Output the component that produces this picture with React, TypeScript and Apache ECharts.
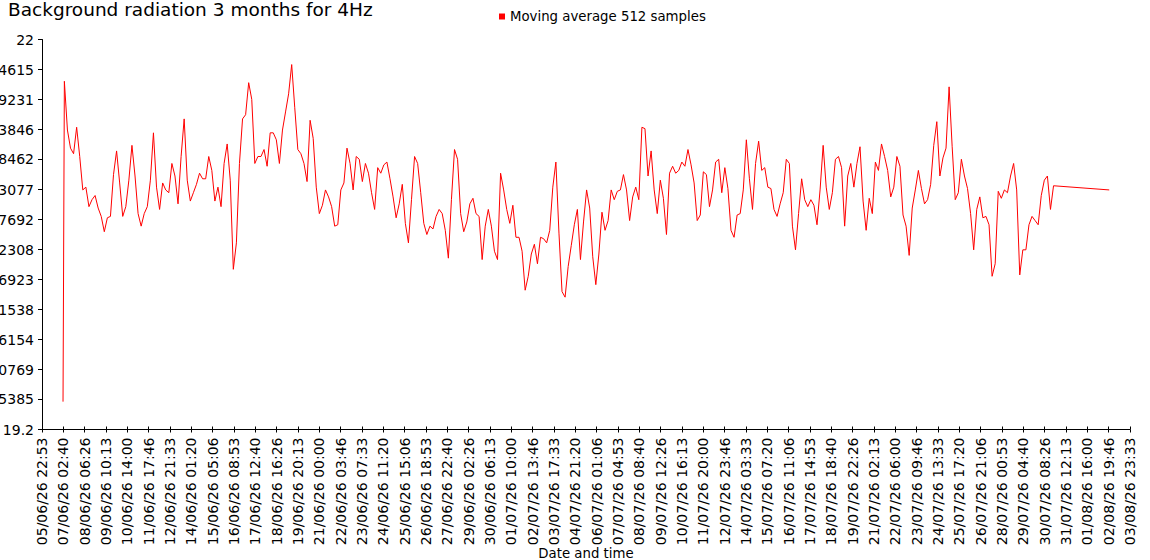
import React, { useEffect, useRef } from "react";
import * as echarts from "echarts";

const TITLE = "Background radiation 3 months for 4Hz";
const SERIES_NAME = "Moving average 512 samples";
const X_AXIS_NAME = "Date and time";

const X_TICK_LABELS = [
  "05/06/26 22:53", "07/06/26 02:40", "08/06/26 06:26", "09/06/26 10:13", "10/06/26 14:00",
  "11/06/26 17:46", "12/06/26 21:33", "14/06/26 01:20", "15/06/26 05:06", "16/06/26 08:53",
  "17/06/26 12:40", "18/06/26 16:26", "19/06/26 20:13", "21/06/26 00:00", "22/06/26 03:46",
  "23/06/26 07:33", "24/06/26 11:20", "25/06/26 15:06", "26/06/26 18:53", "27/06/26 22:40",
  "29/06/26 02:26", "30/06/26 06:13", "01/07/26 10:00", "02/07/26 13:46", "03/07/26 17:33",
  "04/07/26 21:20", "06/07/26 01:06", "07/07/26 04:53", "08/07/26 08:40", "09/07/26 12:26",
  "10/07/26 16:13", "11/07/26 20:00", "12/07/26 23:46", "14/07/26 03:33", "15/07/26 07:20",
  "16/07/26 11:06", "17/07/26 14:53", "18/07/26 18:40", "19/07/26 22:26", "21/07/26 02:13",
  "22/07/26 06:00", "23/07/26 09:46", "24/07/26 13:33", "25/07/26 17:20", "26/07/26 21:06",
  "28/07/26 00:53", "29/07/26 04:40", "30/07/26 08:26", "31/07/26 12:13", "01/08/26 16:00",
  "02/08/26 19:46", "03/08/26 23:33",
];

const Y_TICKS = [
  19.2, 19.415385, 19.630769, 19.846154, 20.061538, 20.276923, 20.492308,
  20.707692, 20.923077, 21.138462, 21.353846, 21.569231, 21.784615, 22,
];
const Y_MIN = 19.2;
const Y_MAX = 22;

const FIRST_SAMPLE = { time: "07/06/26 02:15", value: 19.4 };
const SAMPLE_START = "07/06/26 04:00";
const SAMPLE_STEP_HOURS = 4;
const VALUES = [
  21.70, 21.35, 21.22, 21.18, 21.37, 21.16, 20.92, 20.94, 20.80, 20.85,
  20.88, 20.79, 20.73, 20.62, 20.72, 20.73, 21.03, 21.20, 20.97, 20.73,
  20.80, 20.99, 21.24, 21.02, 20.75, 20.66, 20.75, 20.80, 20.99, 21.33,
  20.94, 20.78, 20.97, 20.92, 20.90, 21.11, 21.02, 20.82, 21.16, 21.43,
  20.99, 20.84, 20.90, 20.96, 21.04, 21.00, 21.00, 21.16, 21.06, 20.84,
  20.94, 20.80, 21.11, 21.25, 20.99, 20.35, 20.54, 21.11, 21.43, 21.46,
  21.69, 21.57, 21.11, 21.16, 21.16, 21.21, 21.09, 21.33, 21.33, 21.28,
  21.11, 21.35, 21.48, 21.61, 21.82, 21.51, 21.21, 21.18, 21.11, 20.98,
  21.42, 21.29, 20.94, 20.75, 20.81, 20.92, 20.87, 20.80, 20.66, 20.67,
  20.92, 20.97, 21.22, 21.11, 20.92, 21.16, 21.14, 20.98, 21.11, 21.04,
  20.90, 20.78, 21.08, 21.04, 21.10, 21.12, 21.00, 20.87, 20.72, 20.82,
  20.96, 20.68, 20.54, 20.85, 21.16, 21.11, 20.90, 20.68, 20.60, 20.66,
  20.64, 20.73, 20.78, 20.75, 20.63, 20.43, 20.85, 21.21, 21.14, 20.75,
  20.62, 20.69, 20.82, 20.86, 20.75, 20.73, 20.42, 20.66, 20.78, 20.66,
  20.48, 20.42, 21.04, 20.92, 20.78, 20.68, 20.81, 20.58, 20.58, 20.48,
  20.20, 20.30, 20.46, 20.53, 20.39, 20.58, 20.57, 20.54, 20.63, 20.94,
  21.12, 20.61, 20.19, 20.15, 20.37, 20.52, 20.67, 20.78, 20.42, 20.69,
  20.92, 20.79, 20.44, 20.24, 20.46, 20.76, 20.63, 20.70, 20.92, 20.85,
  20.91, 20.92, 21.03, 20.92, 20.70, 20.87, 20.94, 20.85, 21.37, 21.36,
  21.02, 21.20, 20.92, 20.75, 20.99, 20.86, 20.60, 21.04, 21.09, 21.04,
  21.06, 21.12, 21.09, 21.21, 21.10, 20.97, 20.70, 20.74, 21.05, 21.03,
  20.80, 20.92, 21.12, 21.14, 20.90, 21.08, 20.93, 20.63, 20.58, 20.74,
  20.75, 20.92, 21.28, 21.00, 20.78, 21.11, 21.27, 21.06, 21.08, 20.94,
  20.93, 20.78, 20.73, 20.82, 20.90, 21.14, 21.11, 20.66, 20.49, 20.75,
  21.00, 20.85, 20.80, 20.85, 20.81, 20.67, 20.92, 21.24, 20.94, 20.78,
  20.90, 21.14, 21.16, 21.08, 20.66, 21.02, 21.11, 20.94, 21.11, 21.23,
  20.84, 20.63, 20.86, 20.75, 21.12, 21.06, 21.25, 21.16, 21.06, 20.87,
  20.94, 21.16, 21.09, 20.74, 20.66, 20.45, 20.79, 20.92, 21.06, 20.93,
  20.82, 20.85, 20.96, 21.24, 21.41, 21.02, 21.15, 21.22, 21.66, 21.23,
  20.85, 20.90, 21.14, 21.02, 20.93, 20.75, 20.49, 20.78, 20.87, 20.72,
  20.73, 20.67, 20.30, 20.39, 20.91, 20.86, 20.92, 20.90, 21.02, 21.11,
  20.92, 20.31, 20.49, 20.49, 20.67, 20.73, 20.70, 20.67, 20.88, 20.99,
  21.02, 20.78, 20.95,
];
const LAST_SAMPLE = { time: "02/08/26 20:30", value: 20.92 };

function parseStamp(s: string): number {
  const [d, t] = s.split(" ");
  const [dd, mm, yy] = d.split("/").map(Number);
  const [hh, mi] = t.split(":").map(Number);
  return Date.UTC(2000 + yy, mm - 1, dd, hh, mi);
}

function pad(n: number): string {
  return n < 10 ? "0" + n : String(n);
}

function formatStamp(ms: number): string {
  const d = new Date(Math.round(ms / 60000) * 60000);
  return (
    pad(d.getUTCDate()) + "/" + pad(d.getUTCMonth() + 1) + "/" + pad(d.getUTCFullYear() % 100) +
    " " + pad(d.getUTCHours()) + ":" + pad(d.getUTCMinutes())
  );
}

export default function App() {
  const ref = useRef<HTMLDivElement>(null);

  useEffect(() => {
    if (!ref.current) return;
    const chart = echarts.init(ref.current, null, { renderer: "svg" });

    const xTicks = X_TICK_LABELS.map(parseStamp);
    const xMin = xTicks[0];
    const xMax = xTicks[xTicks.length - 1];
    const start = parseStamp(SAMPLE_START);
    const step = SAMPLE_STEP_HOURS * 3600 * 1000;
    const data: [number, number][] = [
      [parseStamp(FIRST_SAMPLE.time), FIRST_SAMPLE.value],
      ...VALUES.map((v, i) => [start + i * step, v] as [number, number]),
      [parseStamp(LAST_SAMPLE.time), LAST_SAMPLE.value],
    ];

    const font = "DejaVu Sans";

    chart.setOption({
      animation: false,
      textStyle: { fontFamily: font },
      title: {
        text: TITLE,
        left: 8,
        top: 0,
        padding: 0,
        textStyle: { fontSize: 18.5, fontWeight: "normal", color: "#000", fontFamily: font },
      },
      legend: {
        data: [SERIES_NAME],
        left: 499,
        top: 10,
        padding: 0,
        icon: "rect",
        itemWidth: 6,
        itemHeight: 6,
        itemGap: 5,
        textStyle: { fontSize: 13.3, color: "#000", fontFamily: font },
      },
      grid: {
        left: 42,
        right: 20,
        top: 39.5,
        bottom: 130.5,
        containLabel: false,
        outerBoundsMode: "none",
      },
      xAxis: [
        {
          type: "value",
          min: xMin,
          max: xMax,
          name: X_AXIS_NAME,
          nameLocation: "middle",
          nameGap: 117,
          nameMoveOverlap: false,
          nameTextStyle: { fontSize: 13.3, color: "#000", fontFamily: font },
          axisLine: { show: true, lineStyle: { color: "#000", width: 1 } },
          axisTick: { show: true, customValues: xTicks, length: 3, lineStyle: { color: "#000" } },
          axisLabel: {
            customValues: xTicks,
            rotate: 90,
            margin: 8,
            fontSize: 14,
            color: "#000",
            fontFamily: font,
            formatter: (v: number) => formatStamp(v),
          },
          splitLine: { show: false },
        },
        {
          type: "value",
          min: xMin,
          max: xMax,
          position: "bottom",
          axisLine: { show: false },
          axisTick: { show: true, inside: true, customValues: xTicks, length: 3, lineStyle: { color: "#000" } },
          axisLabel: { show: false },
          splitLine: { show: false },
        },
      ],
      yAxis: {
        type: "value",
        min: Y_MIN,
        max: Y_MAX,
        axisLine: { show: true, lineStyle: { color: "#000", width: 1 } },
        axisTick: { show: true, customValues: Y_TICKS, length: 4, lineStyle: { color: "#000" } },
        axisLabel: {
          customValues: Y_TICKS,
          margin: 8,
          fontSize: 14,
          color: "#000",
          fontFamily: font,
          formatter: (v: number) => String(parseFloat(Number(v).toFixed(6))),
        },
        splitLine: { show: false },
      },
      series: [
        {
          type: "line",
          name: SERIES_NAME,
          xAxisIndex: 0,
          data,
          showSymbol: false,
          symbol: "none",
          lineStyle: { color: "#ff0000", width: 1 },
          itemStyle: { color: "#ff0000" },
        },
      ],
    });

    return () => chart.dispose();
  }, []);

  return (
    <div
      ref={ref}
      style={{ position: "absolute", left: 0, top: 0, width: 1150, height: 560 }}
    />
  );
}
